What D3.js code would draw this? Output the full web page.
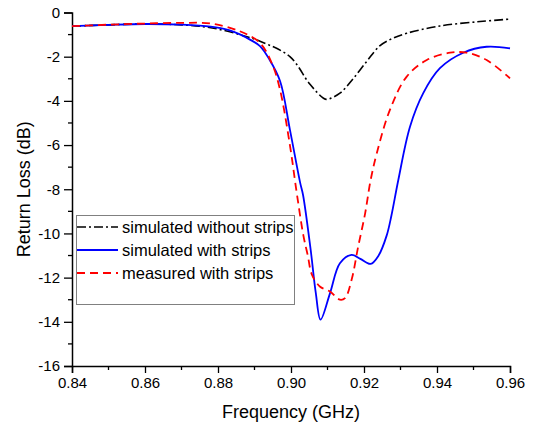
<!DOCTYPE html>
<html>
<head>
<meta charset="utf-8">
<script src="https://cdn.jsdelivr.net/npm/d3@7"></script>
<style>
  body { margin: 0; background: #fff; }
  svg text { font-family: "Liberation Sans", Arial, sans-serif; fill: #000; }
</style>
</head>
<body>
<svg id="chart" width="537" height="426"></svg>
<script>
// simulated without strips
var freqNoStrip = [0.84, 0.85, 0.86, 0.87, 0.878, 0.886, 0.8915, 0.8997, 0.9052, 0.9089, 0.9099, 0.9134, 0.917, 0.9208, 0.9244, 0.928, 0.9317, 0.9408, 0.9518, 0.96];
var rlNoStrip   = [-0.62, -0.56, -0.52, -0.56, -0.69, -1.0, -1.3, -2.0, -3.25, -3.88, -3.93, -3.65, -3.0, -2.2, -1.5, -1.16, -0.94, -0.61, -0.41, -0.3];

// simulated with strips
var freqSim = [0.84, 0.85, 0.86, 0.87, 0.878, 0.883, 0.886, 0.889, 0.8915, 0.894, 0.897, 0.8997, 0.9025, 0.9033, 0.9054, 0.9068, 0.9081, 0.9107, 0.9134, 0.9166, 0.919, 0.9218, 0.924, 0.9262, 0.9275, 0.9294, 0.9326, 0.9362, 0.9408, 0.9472, 0.9536, 0.96];
var rlSim   = [-0.62, -0.56, -0.52, -0.55, -0.64, -0.8, -0.99, -1.25, -1.52, -2.1, -3.1, -5.3, -7.7, -8.26, -10.76, -12.7, -13.9, -12.7, -11.35, -10.97, -11.15, -11.38, -11.0, -10.1, -9.2, -7.58, -5.17, -3.66, -2.52, -1.82, -1.55, -1.62];

// measured with strips
var freqMeas = [0.84, 0.85, 0.86, 0.87, 0.878, 0.886, 0.8915, 0.895, 0.897, 0.8997, 0.9016, 0.9034, 0.9046, 0.9057, 0.9079, 0.9107, 0.9134, 0.9148, 0.9166, 0.9184, 0.9203, 0.9218, 0.9235, 0.9271, 0.9317, 0.9372, 0.9436, 0.9481, 0.9536, 0.96];
var rlMeas   = [-0.62, -0.55, -0.5, -0.47, -0.5, -0.85, -1.38, -2.4, -3.5, -6.0, -8.2, -10.1, -11.0, -11.85, -12.4, -12.63, -13.0, -12.93, -12.1, -10.6, -9.1, -7.6, -6.37, -4.41, -2.9, -2.15, -1.82, -1.82, -2.15, -2.98];

var xTicks = [0.84, 0.86, 0.88, 0.90, 0.92, 0.94, 0.96];
var yTicks = [0, -2, -4, -6, -8, -10, -12, -14, -16];
var legendLabels = ["simulated without strips", "simulated with strips", "measured with strips"];

var mLeft = 72, mTop = 12.5, plotW = 438, plotH = 353.5;
var svg = d3.select("#chart");

var x = d3.scaleLinear().domain([0.84, 0.96]).range([mLeft, mLeft + plotW]);
var y = d3.scaleLinear().domain([0, -16]).range([mTop, mTop + plotH]);

var xMinor = [0.85, 0.87, 0.89, 0.91, 0.93, 0.95];
var yMinor = [-1, -3, -5, -7, -9, -11, -13, -15];

var xAxis = svg.append("g").attr("transform", "translate(0," + (mTop + plotH) + ")");
xAxis.call(d3.axisBottom(x).tickValues(xTicks).tickFormat(d3.format(".2f")).tickSize(7).tickPadding(4));
xAxis.selectAll("line.minor").data(xMinor).enter().append("line")
  .attr("class", "minor")
  .attr("x1", function(d) { return x(d); }).attr("x2", function(d) { return x(d); })
  .attr("y1", 0).attr("y2", 4).attr("stroke", "#000").attr("stroke-width", 1.3);

var yAxis = svg.append("g").attr("transform", "translate(" + mLeft + ",0)");
yAxis.call(d3.axisLeft(y).tickValues(yTicks).tickFormat(d3.format("d")).tickSize(8).tickPadding(4));
yAxis.selectAll("line.minor").data(yMinor).enter().append("line")
  .attr("class", "minor")
  .attr("y1", function(d) { return y(d); }).attr("y2", function(d) { return y(d); })
  .attr("x1", 0).attr("x2", -4).attr("stroke", "#000").attr("stroke-width", 1.3);

svg.selectAll(".domain").attr("stroke", "#000").attr("stroke-width", 1.5);
svg.selectAll(".tick line").attr("stroke", "#000").attr("stroke-width", 1.3);
svg.selectAll(".tick text").style("font-size", "15px").attr("fill", "#000")
  .style("font-family", "'Liberation Sans', Arial, sans-serif");
yAxis.selectAll(".tick text").text(function(d) { return String(d); });

// axis titles
svg.append("text")
  .attr("x", mLeft + plotW / 2).attr("y", 418)
  .attr("text-anchor", "middle").style("font-size", "18px")
  .text("Frequency (GHz)");
svg.append("text")
  .attr("transform", "translate(30," + (mTop + plotH / 2) + ") rotate(-90)")
  .attr("text-anchor", "middle").style("font-size", "18px")
  .text("Return Loss (dB)");

var line = d3.line().curve(d3.curveCatmullRom.alpha(0.5))
  .x(function(d) { return x(d[0]); })
  .y(function(d) { return y(d[1]); });

var series = [
  { f: freqNoStrip, v: rlNoStrip, color: "#000000", dash: "9,3,2,3", w: 1.6 },
  { f: freqSim, v: rlSim, color: "#0000ff", dash: null, w: 1.8 },
  { f: freqMeas, v: rlMeas, color: "#ff0000", dash: "8,5", w: 1.8 }
];

series.forEach(function(s) {
  svg.append("path")
    .datum(d3.zip(s.f, s.v))
    .attr("d", line)
    .attr("fill", "none")
    .attr("stroke", s.color)
    .attr("stroke-width", s.w)
    .attr("stroke-dasharray", s.dash);
});

// legend
var legend = svg.append("g");
legend.append("rect")
  .attr("x", 76.5).attr("y", 215.5).attr("width", 218).attr("height", 89)
  .attr("fill", "#fff").attr("stroke", "#808080").attr("stroke-width", 1);

series.forEach(function(s, i) {
  var ly = 227 + i * 23;
  legend.append("line")
    .attr("x1", 77).attr("x2", 118).attr("y1", ly).attr("y2", ly)
    .attr("stroke", s.color).attr("stroke-width", s.w)
    .attr("stroke-dasharray", s.dash);
  legend.append("text")
    .attr("x", 122).attr("y", ly + 6)
    .style("font-size", "16.5px")
    .text(legendLabels[i]);
});
</script>
</body>
</html>
